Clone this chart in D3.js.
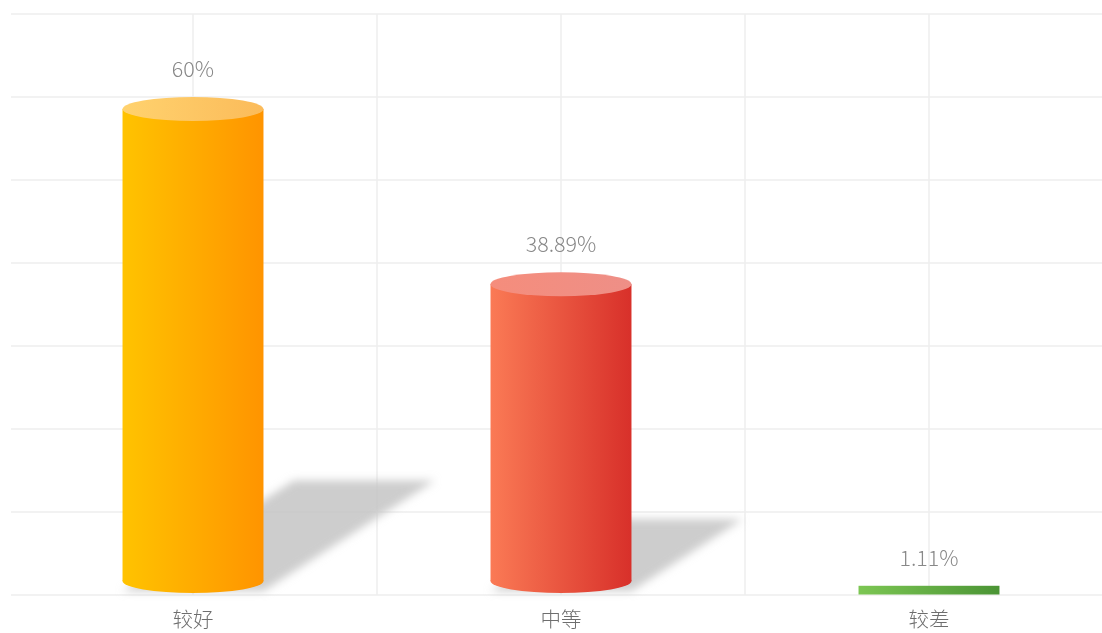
<!DOCTYPE html>
<html><head><meta charset="utf-8">
<script src="https://cdn.jsdelivr.net/npm/d3@7"></script>
<style>html,body{margin:0;padding:0;background:#fff;}svg{display:block;}</style>
</head><body>
<svg id="chart" width="1102" height="633"></svg>
<script>
const categories = ["较好", "中等", "较差"];
const values = [60, 38.89, 1.11];
const valueLabels = ["60%", "38.89%", "1.11%"];
const yTicks = [0, 10, 20, 30, 40, 50, 60, 70];
const bodyColors = [["#ffc300", "#ff9400"], ["#fa7a55", "#d8302a"], ["#7cc653", "#4b9435"]];
const topColors = [["#ffd26e", "#fbbb5a"], ["#f58d7c", "#ee8f87"], ["#9ad678", "#6bb050"]];

const svg = d3.select("#chart");
const W = 1102, H = 633;
const plot = {left: 9, right: 1113, top: 14, bottom: 595};
const font = "'Microsoft YaHei','Noto Sans CJK SC',sans-serif";

const x = d3.scaleBand().domain(categories).range([plot.left, plot.right]).paddingInner(0).paddingOuter(0);
const y = d3.scaleLinear().domain([0, 70]).range([plot.bottom, plot.top]);
const barW = x.bandwidth() * 0.383;
const ry = 12;

const defs = svg.append("defs");
categories.forEach((c, i) => {
  const g = defs.append("linearGradient").attr("id", "body" + i).attr("x1", 0).attr("x2", 1).attr("y1", 0).attr("y2", 0);
  g.append("stop").attr("offset", 0).attr("stop-color", bodyColors[i][0]);
  g.append("stop").attr("offset", 1).attr("stop-color", bodyColors[i][1]);
  const t = defs.append("linearGradient").attr("id", "top" + i).attr("x1", 0).attr("x2", 1).attr("y1", 0).attr("y2", 0);
  t.append("stop").attr("offset", 0).attr("stop-color", topColors[i][0]);
  t.append("stop").attr("offset", 1).attr("stop-color", topColors[i][1]);
});
const blur = defs.append("filter").attr("id", "blur").attr("x", "-20%").attr("y", "-20%").attr("width", "140%").attr("height", "140%");
blur.append("feGaussianBlur").attr("stdDeviation", 4);

// grid
const grid = svg.append("g");
grid.selectAll("line.h").data(yTicks).join("line")
  .attr("x1", plot.left + 2).attr("x2", W)
  .attr("y1", d => y(d)).attr("y2", d => y(d))
  .attr("stroke", "#eeeeee").attr("stroke-width", 1.5);
const vx = [];
categories.forEach((c, i) => { if (i > 0) vx.push(x(c)); vx.push(x(c) + x.bandwidth() / 2); });
grid.selectAll("line.v").data(vx).join("line")
  .attr("x1", d => d).attr("x2", d => d)
  .attr("y1", plot.top).attr("y2", plot.bottom)
  .attr("stroke", "#eeeeee").attr("stroke-width", 1.5);

// shadows
const shadows = svg.append("g").attr("filter", "url(#blur)");
values.forEach((v, i) => {
  const cx = x(categories[i]) + x.bandwidth() / 2;
  const x0 = cx - barW / 2, x1 = cx + barW / 2;
  const h = (plot.bottom - y(v)) * 0.222;
  const dx = h * 1.55;
  const yb = plot.bottom - 4;
  if (h < 4) return;
  shadows.append("path")
    .attr("d", `M${x0},${yb}L${x1},${yb}L${x1 + dx},${yb - h}L${x0 + dx},${yb - h}Z`)
    .attr("fill", "#c4c4c4").attr("opacity", 0.85);
});

// bars
const bars = svg.append("g");
values.forEach((v, i) => {
  const cx = x(categories[i]) + x.bandwidth() / 2;
  const yt = y(v);
  const hpx = plot.bottom - yt;
  if (hpx < 2 * ry + 4) {
    bars.append("rect").attr("x", cx - barW / 2).attr("y", yt).attr("width", barW).attr("height", hpx - 0.5)
      .attr("fill", `url(#body${i})`);
    return;
  }
  const ybot = plot.bottom - 2 - ry;
  bars.append("ellipse").attr("cx", cx).attr("cy", ybot).attr("rx", barW / 2).attr("ry", ry).attr("fill", `url(#body${i})`);
  bars.append("rect").attr("x", cx - barW / 2).attr("y", yt + ry).attr("width", barW).attr("height", ybot - (yt + ry))
    .attr("fill", `url(#body${i})`);
  bars.append("ellipse").attr("cx", cx).attr("cy", yt + ry).attr("rx", barW / 2).attr("ry", ry).attr("fill", `url(#top${i})`);
});

// value labels
svg.append("g").selectAll("text").data(values).join("text")
  .attr("x", (d, i) => x(categories[i]) + x.bandwidth() / 2)
  .attr("y", d => y(d) - 20)
  .attr("text-anchor", "middle")
  .attr("font-family", font).attr("font-size", 21.5).attr("font-weight", 300).attr("fill", "#888888")
  .text((d, i) => valueLabels[i]);

// category axis labels
const xAxis = d3.axisBottom(x).tickSize(0).tickPadding(0);
const ax = svg.append("g").attr("transform", `translate(0,${plot.bottom})`).call(xAxis);
ax.select(".domain").remove();
ax.selectAll("text").attr("font-family", font).attr("font-size", 20.5).attr("font-weight", 300).attr("fill", "#6e6e6e").attr("dy", 0).attr("y", 32);
</script>
</body></html>
